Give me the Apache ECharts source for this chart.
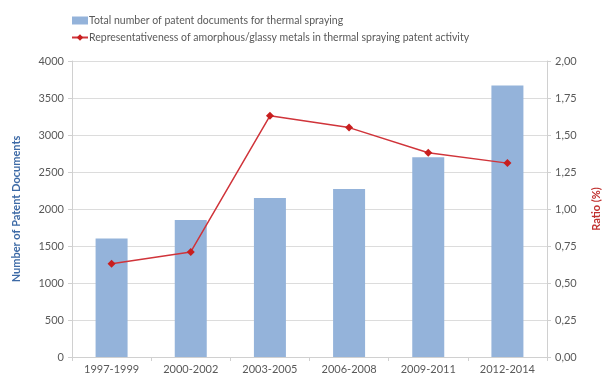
<!DOCTYPE html>
<html>
<head>
<meta charset="utf-8">
<script src="https://cdn.jsdelivr.net/npm/echarts@6/dist/echarts.min.js"></script>
<style>
  html, body { margin: 0; padding: 0; background: #fff; }
  #chart { width: 614px; height: 379px; }
</style>
</head>
<body>
<div id="chart"></div>
<script>
// periods on the x axis
var periods = ['1997-1999', '2000-2002', '2003-2005', '2006-2008', '2009-2011', '2012-2014'];
// total patent documents (left axis)
var totalDocs = [1600, 1850, 2150, 2270, 2700, 3670];
// share of amorphous/glassy metals, % (right axis)
var ratioPct = [0.63, 0.71, 1.63, 1.55, 1.38, 1.31];

var barName = 'Total number of patent documents for thermal spraying';
var lineName = 'Representativeness of amorphous/glassy metals in thermal spraying patent activity';

var txt = '#595959';
var fnt = 'Lato';

var chart = echarts.init(document.getElementById('chart'));
chart.setOption({
    animation: false,
    textStyle: { fontFamily: fnt },
    grid: { left: 72, right: 67, top: 61, bottom: 22 },
    legend: {
        orient: 'vertical',
        left: 66,
        top: 10,
        itemGap: 6,
        itemWidth: 16,
        itemHeight: 8,
        textStyle: { color: txt, fontSize: 10.5, fontFamily: fnt, padding: [0, 0, 0, -4] },
        data: [
            { name: barName, icon: 'rect' },
            { name: lineName }
        ]
    },
    xAxis: {
        type: 'category',
        data: periods,
        axisLine: { lineStyle: { color: '#d0d0d0' } },
        axisTick: { show: true, length: 4, lineStyle: { color: '#d0d0d0' } },
        axisLabel: { color: txt, fontSize: 11, margin: 7 }
    },
    yAxis: [{
        type: 'value',
        min: 0, max: 4000, interval: 500,
        name: 'Number of Patent Documents',
        nameLocation: 'middle',
        nameGap: 50,
        nameTextStyle: { color: '#3d6aa6', fontWeight: 'bold', fontSize: 11 },
        axisLine: { show: true, lineStyle: { color: '#d0d0d0' } },
        axisTick: { show: true, length: 4, lineStyle: { color: '#d0d0d0' } },
        axisLabel: {
            color: txt, fontSize: 11, margin: 8,
            formatter: function (v) { return String(v); }
        },
        splitLine: { lineStyle: { color: '#dcdcdc' } }
    }, {
        type: 'value',
        min: 0, max: 2, interval: 0.25,
        name: 'Ratio (%)',
        nameLocation: 'middle',
        nameGap: 44,
        nameRotate: 90,
        nameTextStyle: { color: '#c0302e', fontWeight: 'bold', fontSize: 11 },
        axisLine: { show: true, lineStyle: { color: '#d0d0d0' } },
        axisTick: { show: true, length: 4, lineStyle: { color: '#d0d0d0' } },
        axisLabel: {
            color: txt, fontSize: 11, margin: 8,
            formatter: function (v) { return v.toFixed(2).replace('.', ','); }
        },
        splitLine: { show: false }
    }],
    series: [{
        name: barName,
        type: 'bar',
        data: totalDocs,
        barWidth: 32,
        itemStyle: { color: '#94b3da' }
    }, {
        name: lineName,
        type: 'line',
        yAxisIndex: 1,
        data: ratioPct,
        symbol: 'diamond',
        symbolSize: 8,
        lineStyle: { color: '#d0343a', width: 1.5 },
        itemStyle: { color: '#c81e1e' }
    }]
});
</script>
</body>
</html>
